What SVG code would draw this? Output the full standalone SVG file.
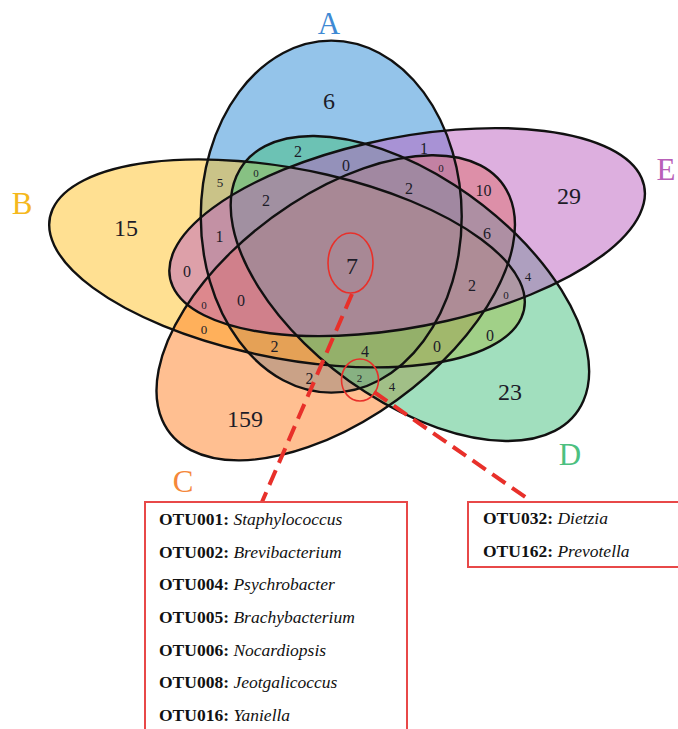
<svg xmlns="http://www.w3.org/2000/svg" xmlns:xlink="http://www.w3.org/1999/xlink" width="678" height="729" viewBox="0 0 678 729">
<style>
.f{fill-opacity:0.5;stroke:none}
.o{fill:none;stroke:#111;stroke-width:2.4}
.lbl{font-family:"Liberation Serif","Times New Roman",serif;font-size:31px;text-anchor:middle}
.n{font-family:"Liberation Serif","Times New Roman",serif;text-anchor:middle;fill:#1c1c28}
.L{font-size:24px}
.M{font-size:16px}
.S{font-size:13px}
.T{font-size:11px}
.hl{fill:none;stroke:#e8302a;stroke-width:1.6}
.lead{stroke:#e8302a;stroke-width:4;stroke-dasharray:16 8;fill:none}
.box{fill:#fff;stroke:#e84848;stroke-width:2}
.otu{font-family:"Liberation Serif","Times New Roman",serif;font-size:17.5px;fill:#111}
.b{font-weight:bold}
.i{font-style:italic}
</style>
<defs>
<ellipse id="eA" cx="236.6" cy="216.6" rx="93.2" ry="176" vector-effect="non-scaling-stroke"/>
<ellipse id="eB" cx="205" cy="263.4" rx="176" ry="93.2" transform="rotate(18 205 263.4)" vector-effect="non-scaling-stroke"/>
<ellipse id="eC" cx="239.8" cy="307.8" rx="176" ry="93.2" transform="rotate(-54 239.8 307.8)" vector-effect="non-scaling-stroke"/>
<ellipse id="eD" cx="292.8" cy="288.5" rx="176" ry="93.2" transform="rotate(54 292.8 288.5)" vector-effect="non-scaling-stroke"/>
<ellipse id="eE" cx="290.8" cy="232.1" rx="176" ry="93.2" transform="rotate(-18 290.8 232.1)" vector-effect="non-scaling-stroke"/>
</defs>
<rect width="678" height="729" fill="#fff"/>
<g id="venn" transform="scale(1.4,1)">
<g id="set-A"><use href="#eA" class="f" fill="#2a8ad6"/></g>
<g id="set-B"><use href="#eB" class="f" fill="#ffc125"/></g>
<g id="set-C"><use href="#eC" class="f" fill="#ff7f24"/></g>
<g id="set-D"><use href="#eD" class="f" fill="#43c07e"/></g>
<g id="set-E"><use href="#eE" class="f" fill="#bc60c0"/></g>
<g id="outlines">
<use href="#eA" class="o"/>
<use href="#eB" class="o"/>
<use href="#eC" class="o"/>
<use href="#eD" class="o"/>
<use href="#eE" class="o"/>
</g>
</g>
<g id="set-labels">
<text class="lbl" x="329" y="33.5" fill="#3f8ad4">A</text>
<text class="lbl" x="22" y="213.5" fill="#f5b81c">B</text>
<text class="lbl" x="183" y="492" fill="#f5873a">C</text>
<text class="lbl" x="570" y="465" fill="#4cc080">D</text>
<text class="lbl" x="666" y="180" fill="#b860b8">E</text>
</g>
<g id="counts">
<text class="n L" x="329" y="108.5">6</text>
<text class="n L" x="126" y="235.5">15</text>
<text class="n L" x="569" y="203.5">29</text>
<text class="n L" x="510" y="400">23</text>
<text class="n L" x="245" y="426.5">159</text>
<text class="n L" x="352" y="273.5">7</text>
<text class="n M" x="298" y="157">2</text>
<text class="n M" x="346" y="170.5">0</text>
<text class="n M" x="424" y="153.5">1</text>
<text class="n M" x="266" y="205.5">2</text>
<text class="n M" x="409" y="193.5">2</text>
<text class="n M" x="483.5" y="195.5">10</text>
<text class="n M" x="219.5" y="242">1</text>
<text class="n M" x="487" y="238.5">6</text>
<text class="n M" x="187" y="277">0</text>
<text class="n M" x="472" y="290.5">2</text>
<text class="n M" x="241" y="305.5">0</text>
<text class="n M" x="490" y="340.5">0</text>
<text class="n M" x="274.5" y="352">2</text>
<text class="n M" x="365" y="357">4</text>
<text class="n M" x="437" y="352">0</text>
<text class="n M" x="309.5" y="383.5">2</text>
<text class="n S" x="220" y="187">5</text>
<text class="n S" x="528" y="280.5">4</text>
<text class="n S" x="204" y="333.5">0</text>
<text class="n S" x="392" y="391">4</text>
<text class="n T" x="256" y="177">0</text>
<text class="n T" x="441" y="172">0</text>
<text class="n T" x="204" y="309">0</text>
<text class="n T" x="506" y="299">0</text>
<text class="n T" x="359.5" y="382">2</text>
</g>
<g id="connectors">
<ellipse class="hl" cx="350.5" cy="263" rx="22.5" ry="30"/>
<ellipse class="hl" cx="360" cy="380" rx="18.5" ry="21"/>
<line class="lead" x1="352" y1="294" x2="262" y2="502"/>
<line class="lead" x1="374" y1="392" x2="531" y2="501"/>
</g>
<g id="box-core">
<rect class="box" x="145" y="502" width="262" height="240"/>
<text class="otu" x="159" y="525"><tspan class="b">OTU001:</tspan> <tspan class="i">Staphylococcus</tspan></text>
<text class="otu" x="159" y="557.7"><tspan class="b">OTU002:</tspan> <tspan class="i">Brevibacterium</tspan></text>
<text class="otu" x="159" y="590.3"><tspan class="b">OTU004:</tspan> <tspan class="i">Psychrobacter</tspan></text>
<text class="otu" x="159" y="623"><tspan class="b">OTU005:</tspan> <tspan class="i">Brachybacterium</tspan></text>
<text class="otu" x="159" y="655.7"><tspan class="b">OTU006:</tspan> <tspan class="i">Nocardiopsis</tspan></text>
<text class="otu" x="159" y="688.3"><tspan class="b">OTU008:</tspan> <tspan class="i">Jeotgalicoccus</tspan></text>
<text class="otu" x="159" y="721"><tspan class="b">OTU016:</tspan> <tspan class="i">Yaniella</tspan></text>
</g>
<g id="box-pair">
<rect class="box" x="468" y="502" width="220" height="65"/>
<text class="otu" x="483" y="524.3"><tspan class="b">OTU032:</tspan> <tspan class="i">Dietzia</tspan></text>
<text class="otu" x="483" y="556.7"><tspan class="b">OTU162:</tspan> <tspan class="i">Prevotella</tspan></text>
</g>
</svg>
